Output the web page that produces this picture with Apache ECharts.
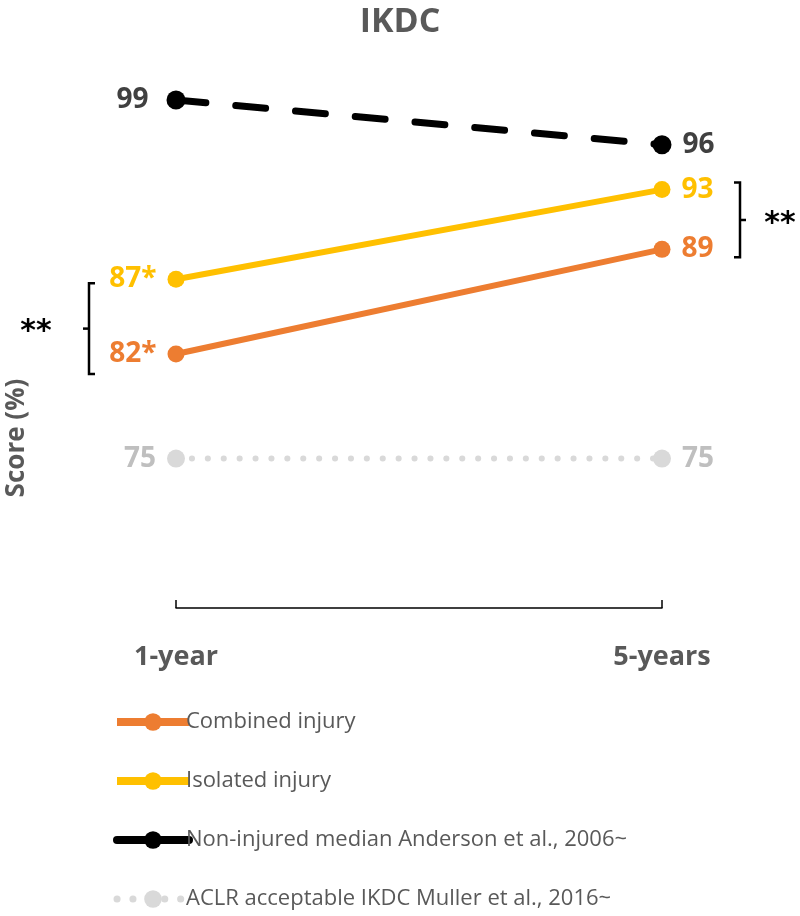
<!DOCTYPE html>
<html>
<head>
<meta charset="utf-8">
<script src="https://cdn.jsdelivr.net/npm/echarts@6/dist/echarts.min.js"></script>
<style>
  html, body { margin: 0; padding: 0; background: #fff; }
  #chart { width: 800px; height: 916px; }
</style>
</head>
<body>
<div id="chart"></div>
<script>
// data
const timepoints = ['1-year', '5-years']
const combined = [82, 89]
const isolated = [87, 93]
const nonInjured = [99, 96]
const aclrAcceptable = [75, 75]
const combinedMarks = ['*', '']
const isolatedMarks = ['*', '']

const seriesNames = [
  'Combined injury',
  'Isolated injury',
  'Non-injured median Anderson et al., 2006~',
  'ACLR acceptable IKDC Muller et al., 2016~'
]

const font = '"Open Sans", "Noto Sans", sans-serif'

// left label on first point, right label on second
const withLabels = (values, color, marks, leftDist) => values.map((v, i) => ({
  value: v,
  label: {
    show: true,
    position: i === 0 ? 'left' : 'right',
    distance: i === 0 ? (leftDist || 11) : 11,
    color: color,
    fontFamily: font,
    fontWeight: 'bold',
    fontSize: 28,
    formatter: () => v + (marks ? marks[i] : '')
  }
}))

const chart = echarts.init(document.getElementById('chart'))

chart.setOption({
  animation: false,
  title: {
    text: 'IKDC',
    left: 'center',
    top: 0,
    textStyle: { fontFamily: font, fontWeight: 'bold', fontSize: 34, color: '#595959' }
  },
  grid: { left: 176, right: 138, top: 85, height: 523, containLabel: false, outerBoundsMode: 'none' },
  legend: {
    orient: 'vertical',
    left: 108,
    top: 706,
    itemWidth: 72,
    itemHeight: 22,
    itemGap: 37,
    data: [
      { name: seriesNames[0], lineStyle: { width: 8 } },
      { name: seriesNames[1], lineStyle: { width: 8 } },
      { name: seriesNames[2], lineStyle: { width: 8, type: 'solid' } },
      { name: seriesNames[3], lineStyle: { width: 7 } }
    ],
    textStyle: { fontFamily: font, fontSize: 22, color: '#595959', padding: [0, 0, 0, -8] }
  },
  xAxis: {
    type: 'category',
    data: timepoints,
    boundaryGap: false,
    axisLine: { lineStyle: { color: '#000', width: 1.5 } },
    axisTick: { show: true, inside: true, length: 8, lineStyle: { color: '#000', width: 1.5 } },
    axisLabel: { margin: 36, fontFamily: font, fontWeight: 'bold', fontSize: 27, color: '#595959' }
  },
  yAxis: {
    type: 'value',
    min: 65,
    max: 100,
    axisLine: { show: false },
    axisTick: { show: false },
    axisLabel: { show: false },
    splitLine: { show: false }
  },
  series: [
    {
      name: seriesNames[2],
      type: 'line',
      data: withLabels(nonInjured, '#404040', null, 18),
      symbol: 'circle',
      symbolSize: 19,
      itemStyle: { color: '#000' },
      lineStyle: { color: '#000', width: 7, type: [30, 30], cap: 'round' },
      z: 2
    },
    {
      name: seriesNames[3],
      type: 'line',
      data: withLabels(aclrAcceptable, '#bfbfbf'),
      symbol: 'circle',
      symbolSize: 18,
      itemStyle: { color: '#d9d9d9' },
      lineStyle: { color: '#d9d9d9', width: 6, type: [0.1, 15.8], cap: 'round' },
      z: 2
    },
    {
      name: seriesNames[0],
      type: 'line',
      data: withLabels(combined, '#ed7d31', combinedMarks),
      symbol: 'circle',
      symbolSize: 17,
      itemStyle: { color: '#ed7d31' },
      lineStyle: { color: '#ed7d31', width: 6 },
      z: 3
    },
    {
      name: seriesNames[1],
      type: 'line',
      data: withLabels(isolated, '#ffc000', isolatedMarks),
      symbol: 'circle',
      symbolSize: 17,
      itemStyle: { color: '#ffc000' },
      lineStyle: { color: '#ffc000', width: 6 },
      z: 3
    }
  ]
})

// significance brackets placed from the data positions
const px = (i, v) => chart.convertToPixel({ gridIndex: 0 }, [i, v])
const l1 = px(0, isolated[0]), l2 = px(0, combined[0])
const r1 = px(1, isolated[1]), r2 = px(1, combined[1])
const lx = l1[0] - 87, lt = l1[1] + 4, lb = l2[1] + 20
const rx = r1[0] + 78, rt = r1[1] - 7, rb = r2[1] + 8
const bracketStyle = { stroke: '#000', lineWidth: 2.5, fill: null }
const lm = (lt + lb) / 2, rm = (rt + rb) / 2
const starFont = 'bold 30px "DejaVu Sans", sans-serif'

chart.setOption({
  graphic: [
    { type: 'polyline', shape: { points: [[lx + 6, lt], [lx, lt], [lx, lb], [lx + 6, lb]] }, style: bracketStyle },
    { type: 'line', shape: { x1: lx - 6, y1: lm, x2: lx, y2: lm }, style: bracketStyle },
    { type: 'text', x: 36, y: lm + 4, style: { text: '**', font: starFont, fill: '#000', align: 'center', verticalAlign: 'middle' } },
    { type: 'polyline', shape: { points: [[rx - 6, rt], [rx, rt], [rx, rb], [rx - 6, rb]] }, style: bracketStyle },
    { type: 'line', shape: { x1: rx, y1: rm, x2: rx + 6, y2: rm }, style: bracketStyle },
    { type: 'text', x: 780, y: rm + 4, style: { text: '**', font: starFont, fill: '#000', align: 'center', verticalAlign: 'middle' } },
    { type: 'text', x: 17, y: 438, rotation: Math.PI / 2, style: { text: 'Score (%)', font: 'bold 26px "Open Sans", sans-serif', fill: '#595959', align: 'center', verticalAlign: 'middle' } }
  ]
})
</script>
</body>
</html>
